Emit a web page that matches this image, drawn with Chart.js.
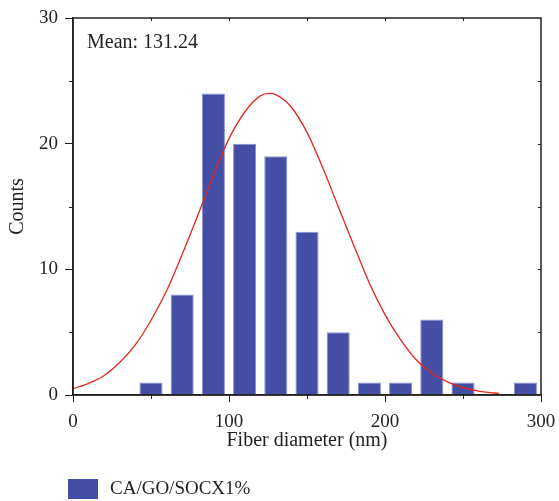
<!DOCTYPE html>
<html>
<head>
<meta charset="utf-8">
<script src="https://cdn.jsdelivr.net/npm/chart.js@4.4.1/dist/chart.umd.min.js"></script>
<style>
  html, body { margin: 0; padding: 0; background: #fff; }
</style>
</head>
<body>
<canvas id="hist" width="559" height="501"></canvas>
<script>
// histogram bins (centre, nm) and counts
const binCenters = [50, 70, 90, 110, 130, 150, 170, 190, 210, 230, 250, 290];
const counts = [1, 8, 24, 20, 19, 13, 5, 1, 1, 6, 1, 1];

// fitted normal curve
const fitX = [0, 10, 20, 30, 40, 50, 60, 70, 80, 90, 100, 110, 120, 126, 130, 140, 150, 160, 170, 180, 190, 200, 210, 220, 230, 240, 250, 260, 270, 273];
const fitY = [0.5, 0.93, 1.55, 2.6, 4.0, 5.95, 8.3, 11.2, 14.3, 17.5, 20.4, 22.5, 23.8, 24.0, 23.9, 22.9, 20.9, 18.1, 15.0, 11.9, 8.9, 6.4, 4.4, 2.8, 1.75, 1.04, 0.59, 0.31, 0.16, 0.13];

const meanLabel = "Mean: 131.24";
const seriesName = "CA/GO/SOCX1%";

const ink = "#231f20";
const barColor = "#454ea5";
const fontFamily = '"Liberation Serif", "DejaVu Serif", serif';

Chart.defaults.font.family = fontFamily;
Chart.defaults.font.size = 19;
Chart.defaults.color = ink;

// frame, minor ticks, mean label and legend
const extras = {
  id: "extras",
  afterDatasetsDraw(chart) {
    const { ctx, chartArea: a, scales: { x, y } } = chart;
    ctx.save();
    ctx.strokeStyle = ink;
    ctx.lineWidth = 1.5;
    ctx.strokeRect(a.left, a.top, a.right - a.left, a.bottom - a.top);

    ctx.lineWidth = 1;
    ctx.beginPath();
    for (let v = 50; v < 300; v += 50) {
      const px = Math.round(x.getPixelForValue(v)) + 0.5;
      ctx.moveTo(px, a.top); ctx.lineTo(px, a.top + 3);
      if (v % 100) { ctx.moveTo(px, a.bottom); ctx.lineTo(px, a.bottom + 4); }
    }
    for (let v = 5; v < 30; v += 5) {
      const py = Math.round(y.getPixelForValue(v)) + 0.5;
      ctx.moveTo(a.right, py); ctx.lineTo(a.right - 3, py);
      if (v % 10) { ctx.moveTo(a.left, py); ctx.lineTo(a.left - 4, py); }
    }
    ctx.stroke();

    ctx.fillStyle = ink;
    ctx.textBaseline = "middle";
    ctx.textAlign = "left";
    ctx.font = "20px " + fontFamily;
    ctx.fillText(meanLabel, a.left + 14, 43);

    ctx.fillStyle = barColor;
    ctx.fillRect(68, 479, 30, 20);
    ctx.fillStyle = ink;
    ctx.font = "19px " + fontFamily;
    ctx.fillText(seriesName, 110, 489);
    ctx.restore();
  }
};

new Chart(document.getElementById("hist"), {
  type: "bar",
  data: {
    datasets: [
      {
        type: "line",
        data: fitX.map((v, i) => ({ x: v, y: fitY[i] })),
        borderColor: "#e3261d",
        borderWidth: 1.3,
        pointRadius: 0,
        cubicInterpolationMode: "monotone",
        fill: false,
        order: 0
      },
      {
        label: seriesName,
        data: binCenters.map((v, i) => ({ x: v, y: counts[i] })),
        backgroundColor: barColor,
        borderColor: "#8a8fcf",
        borderWidth: 1,
        categoryPercentage: 1,
        barPercentage: 0.74,
        order: 1
      }
    ]
  },
  options: {
    responsive: false,
    animation: false,
    layout: { padding: { top: 18, right: 18, bottom: 48, left: 0 } },
    plugins: { legend: { display: false }, tooltip: { enabled: false } },
    scales: {
      x: {
        type: "linear",
        min: 0,
        max: 300,
        offset: false,
        grid: { offset: false, drawOnChartArea: false, tickLength: 7, tickColor: ink },
        border: { color: ink, width: 1.5 },
        ticks: { stepSize: 100, padding: 9, maxRotation: 0 },
        title: { display: true, text: "Fiber diameter (nm)", font: { size: 20 }, padding: { top: 0, bottom: 0 } },
        afterFit: s => { s.height = 58; s.paddingLeft = 0; s.paddingRight = 0; }
      },
      y: {
        min: 0,
        max: 30,
        grid: { drawOnChartArea: false, tickLength: 8, tickColor: ink },
        border: { color: ink, width: 1.5 },
        ticks: { stepSize: 10, padding: 7 },
        title: { display: true, text: "Counts", font: { size: 20 }, padding: { top: 6, bottom: 0 } },
        afterFit: s => { s.width = 73; s.paddingTop = 0; s.paddingBottom = 0; }
      }
    }
  },
  plugins: [extras]
});
</script>
</body>
</html>
